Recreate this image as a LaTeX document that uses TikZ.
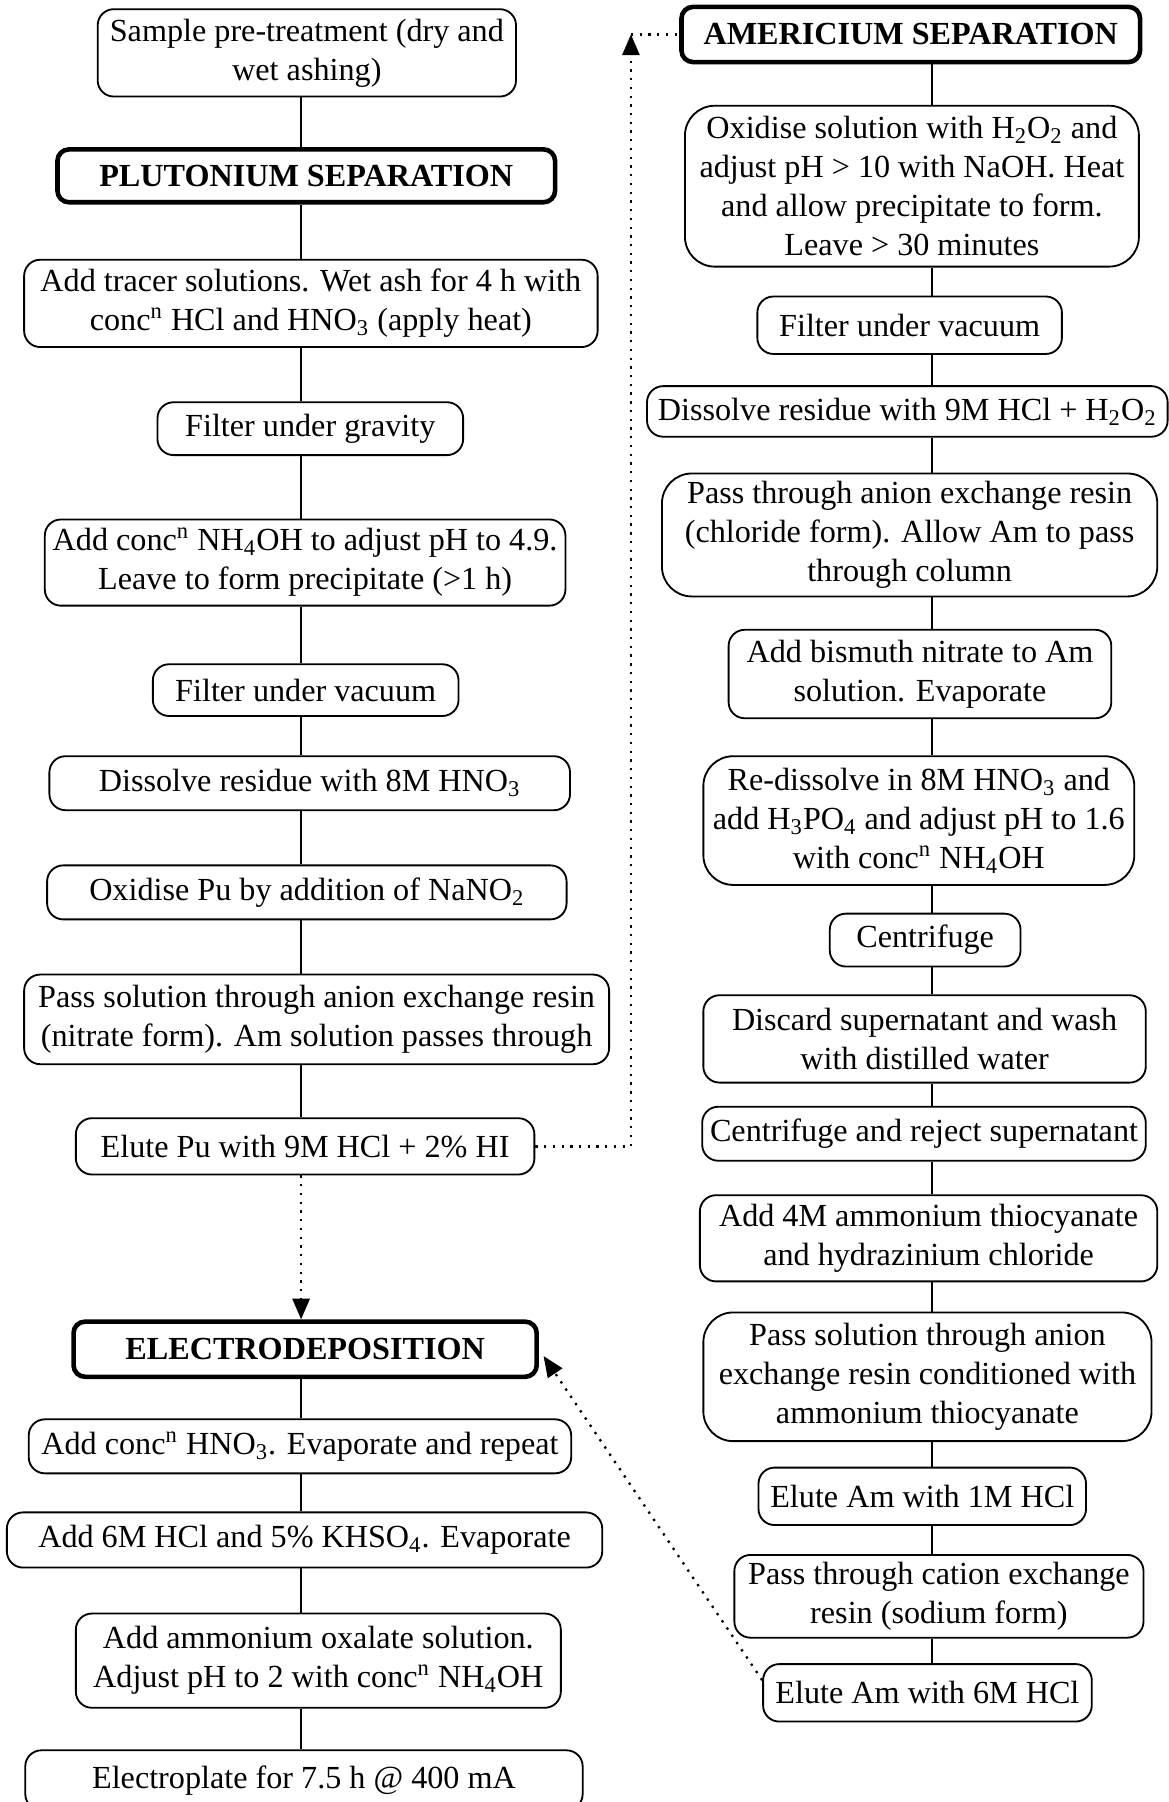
\documentclass[tikz,border=0pt]{standalone}
\usepackage{fontspec}
\setmainfont{Liberation Serif}
\usetikzlibrary{arrows.meta}

\begin{document}
\begin{tikzpicture}[x=0.5pt,y=-0.5pt,
	stepbox/.style={draw,rounded corners=7pt,line width=0.8pt,align=center,inner xsep=2pt,inner ysep=0pt,font=\fontsize{14}{17}\selectfont},
	bigbox/.style={stepbox,rounded corners=13pt},
	headbox/.style={stepbox,line width=2pt,rounded corners=5pt,font=\fontsize{14}{17}\selectfont\bfseries},
	link/.style={line width=0.6pt},
	dots/.style={line width=1pt,dash pattern=on 1pt off 2.8pt},
	flow/.style={dots,-{Triangle[length=9pt,width=7.5pt]}}]
	\useasboundingbox (0,0) rectangle (1017,1568);

	% plutonium column
	\node[stepbox,minimum width=182pt,minimum height=38pt] (pu1) at (267,46) {Sample pre-treatment (dry and\\wet ashing)};
	\node[headbox,minimum width=216.5pt,minimum height=23pt] (pu2) at (266.5,153) {PLUTONIUM SEPARATION};
	\node[stepbox,minimum width=249.5pt,minimum height=38pt] (pu3) at (270.5,264) {Add tracer solutions. Wet ash for 4 h with\\conc\textsuperscript{n} HCl and HNO\textsubscript{3} (apply heat)};
	\node[stepbox,minimum width=133pt,minimum height=23pt] (pu4) at (270,373) {Filter under gravity};
	\node[stepbox,minimum width=226.5pt,minimum height=37.5pt] (pu5) at (265.5,489.5) {Add conc\textsuperscript{n} NH\textsubscript{4}OH to adjust pH to 4.9.\\Leave to form precipitate (>1 h)};
	\node[stepbox,minimum width=133pt,minimum height=22.5pt] (pu6) at (266,600.5) {Filter under vacuum};
	\node[stepbox,minimum width=226.5pt,minimum height=23.5pt] (pu7) at (269.5,681.5) {Dissolve residue with 8M HNO\textsubscript{3}};
	\node[stepbox,minimum width=226pt,minimum height=23.5pt] (pu8) at (267,776.5) {Oxidise Pu by addition of NaNO\textsubscript{2}};
	\node[stepbox,minimum width=254.5pt,minimum height=39pt] (pu9) at (275.5,887) {Pass solution through anion exchange resin\\(nitrate form). Am solution passes through};
	\node[stepbox,minimum width=199.5pt,minimum height=24.5pt] (pu10) at (265.5,997.5) {Elute Pu with 9M HCl + 2\% HI};

	% electrodeposition
	\node[headbox,minimum width=201.5pt,minimum height=24pt] (ed1) at (265.5,1174) {ELECTRODEPOSITION};
	\node[stepbox,minimum width=236pt,minimum height=23.5pt] (ed2) at (261,1258.5) {Add conc\textsuperscript{n} HNO\textsubscript{3}. Evaporate and repeat};
	\node[stepbox,minimum width=259pt,minimum height=24pt] (ed3) at (265,1340) {Add 6M HCl and 5\% KHSO\textsubscript{4}. Evaporate};
	\node[stepbox,minimum width=211pt,minimum height=41pt] (ed4) at (277,1445) {Add ammonium oxalate solution.\\Adjust pH to 2 with conc\textsuperscript{n} NH\textsubscript{4}OH};
	\node[stepbox,minimum width=242.5pt,minimum height=26pt] (ed5) at (264.5,1549) {Electroplate for 7.5 h @ 400 mA};

	% americium column
	\node[headbox,minimum width=199.5pt,minimum height=24pt] (am1) at (792.5,30) {AMERICIUM SEPARATION};
	\node[bigbox,minimum width=197.5pt,minimum height=70pt] (am2) at (793.5,162) {Oxidise solution with H\textsubscript{2}O\textsubscript{2} and\\adjust pH > 10 with NaOH. Heat\\and allow precipitate to form.\\Leave > 30 minutes};
	\node[stepbox,minimum width=132.5pt,minimum height=25pt] (am3) at (791.5,283) {Filter under vacuum};
	\node[stepbox,minimum width=226.5pt,minimum height=22pt] (am4) at (789.5,358) {Dissolve residue with 9M HCl + H\textsubscript{2}O\textsubscript{2}};
	\node[bigbox,minimum width=215.5pt,minimum height=53.5pt] (am5) at (791.5,465.5) {Pass through anion exchange resin\\(chloride form). Allow Am to pass\\through column};
	\node[stepbox,minimum width=166.5pt,minimum height=38.5pt] (am6) at (800.5,586.5) {Add bismuth nitrate to Am\\solution. Evaporate};
	\node[bigbox,minimum width=187.5pt,minimum height=56pt] (am7) at (799.5,714) {Re-dissolve in 8M HNO\textsubscript{3} and\\add H\textsubscript{3}PO\textsubscript{4} and adjust pH to 1.6\\with conc\textsuperscript{n} NH\textsubscript{4}OH};
	\node[stepbox,minimum width=83pt,minimum height=23pt] (am8) at (805,818) {Centrifuge};
	\node[stepbox,minimum width=192.5pt,minimum height=38pt] (am9) at (804.5,904) {Discard supernatant and wash\\with distilled water};
	\node[stepbox,minimum width=193pt,minimum height=23.5pt] (am10) at (804,986.5) {Centrifuge and reject supernatant};
	\node[stepbox,minimum width=199pt,minimum height=37.5pt] (am11) at (808,1077.5) {Add 4M ammonium thiocyanate\\and hydrazinium chloride};
	\node[bigbox,minimum width=195pt,minimum height=56pt] (am12) at (807,1198) {Pass solution through anion\\exchange resin conditioned with\\ammonium thiocyanate};
	\node[stepbox,minimum width=142.5pt,minimum height=25pt] (am13) at (802.5,1302) {Elute Am with 1M HCl};
	\node[stepbox,minimum width=178pt,minimum height=36pt] (am14) at (817,1389) {Pass through cation exchange\\resin (sodium form)};
	\node[stepbox,minimum width=143pt,minimum height=25pt] (am15) at (807,1473) {Elute Am with 6M HCl};

	\coordinate (puspine) at (262,0);
	\coordinate (amspine) at (811,0);
	\coordinate (amturn) at (549,30);

	\draw[link] (pu1.south -| puspine) -- (pu2.north -| puspine);
	\draw[link] (pu2.south -| puspine) -- (pu3.north -| puspine);
	\draw[link] (pu3.south -| puspine) -- (pu4.north -| puspine);
	\draw[link] (pu4.south -| puspine) -- (pu5.north -| puspine);
	\draw[link] (pu5.south -| puspine) -- (pu6.north -| puspine);
	\draw[link] (pu6.south -| puspine) -- (pu7.north -| puspine);
	\draw[link] (pu7.south -| puspine) -- (pu8.north -| puspine);
	\draw[link] (pu8.south -| puspine) -- (pu9.north -| puspine);
	\draw[link] (pu9.south -| puspine) -- (pu10.north -| puspine);
	\draw[link] (ed1.south -| puspine) -- (ed2.north -| puspine);
	\draw[link] (ed2.south -| puspine) -- (ed3.north -| puspine);
	\draw[link] (ed3.south -| puspine) -- (ed4.north -| puspine);
	\draw[link] (ed4.south -| puspine) -- (ed5.north -| puspine);

	\draw[link] (am1.south -| amspine) -- (am2.north -| amspine);
	\draw[link] (am2.south -| amspine) -- (am3.north -| amspine);
	\draw[link] (am3.south -| amspine) -- (am4.north -| amspine);
	\draw[link] (am4.south -| amspine) -- (am5.north -| amspine);
	\draw[link] (am5.south -| amspine) -- (am6.north -| amspine);
	\draw[link] (am6.south -| amspine) -- (am7.north -| amspine);
	\draw[link] (am7.south -| amspine) -- (am8.north -| amspine);
	\draw[link] (am8.south -| amspine) -- (am9.north -| amspine);
	\draw[link] (am9.south -| amspine) -- (am10.north -| amspine);
	\draw[link] (am10.south -| amspine) -- (am11.north -| amspine);
	\draw[link] (am11.south -| amspine) -- (am12.north -| amspine);
	\draw[link] (am12.south -| amspine) -- (am13.north -| amspine);
	\draw[link] (am13.south -| amspine) -- (am14.north -| amspine);
	\draw[link] (am14.south -| amspine) -- (am15.north -| amspine);

	% dotted transfers
	\draw[flow] (pu10.east) -| (amturn);
	\draw[dots] (amturn) -- (am1.west);
	\draw[flow] (pu10.south -| puspine) -- (ed1.north -| puspine);
	\draw[flow] ([yshift=5.5pt]am15.west) -- ([xshift=2pt,yshift=-3pt]ed1.east);
\end{tikzpicture}
\end{document}
